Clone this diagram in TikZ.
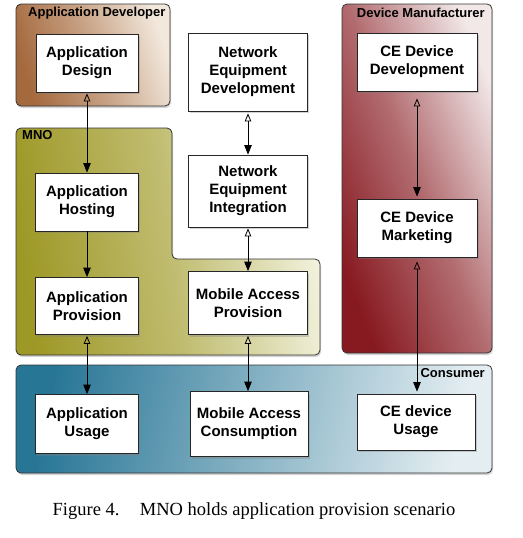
\documentclass[tikz,border=0pt]{standalone}
\usepackage{fontspec}
\setmainfont{Liberation Serif}
\newfontfamily\hv{Liberation Sans}
\usetikzlibrary{arrows.meta,shadows}
\definecolor{devD}{RGB}{165,105,62}
\definecolor{devL}{RGB}{242,232,220}
\definecolor{mnoD}{RGB}{158,152,38}
\definecolor{mnoL}{RGB}{242,242,222}
\definecolor{manD}{RGB}{135,25,32}
\definecolor{manL}{RGB}{242,232,232}
\definecolor{conD}{RGB}{40,118,150}
\definecolor{conL}{RGB}{228,238,242}
\tikzset{
  grp/.style={draw=black!80, line width=0.8pt, rounded corners=5pt,
    drop shadow={opacity=0.35, shadow xshift=1pt, shadow yshift=-2pt}},
  grplabel/.style={font=\hv\bfseries\fontsize{13}{15}\selectfont, inner sep=0pt},
  box/.style={draw=black!85, fill=white, line width=0.8pt, align=center,
    font=\hv\bfseries\fontsize{15}{18}\selectfont, inner sep=0pt,
    drop shadow={opacity=0.35, shadow xshift=1.5pt, shadow yshift=-2pt}},
  link/.style={line width=0.8pt, {Triangle[open,length=8pt,width=6.5pt]}-{Triangle[length=9.5pt,width=7.5pt]}},
  flow/.style={line width=0.8pt, -{Triangle[length=9.5pt,width=7.5pt]}}
}
\begin{document}
\begin{tikzpicture}[x=1pt,y=-1pt]
\useasboundingbox (0,0) rectangle (522,538);
% groups
\shade[grp, left color=devD, right color=devL, middle color=devD!55!devL, shading angle=108]
  (16,4) rectangle (170,106);
\shade[grp, left color=mnoD, right color=mnoL, middle color=mnoD!60!mnoL, shading angle=98]
  (16,128) -- (172,128) -- (172,259) -- (320,259) -- (320,355) -- (16,355) -- cycle;
\shade[grp, left color=manD, right color=manL, middle color=manD!60!manL, shading angle=112]
  (342,4) rectangle (492,353);
\shade[grp, left color=conD, right color=conL, middle color=conD!50!conL, shading angle=78]
  (16,365) rectangle (492,473);
\node[grplabel, anchor=west] (ladev) at (28,13) {Application Developer};
\node[grplabel, anchor=west] (lmno) at (22,135) {MNO};
\node[grplabel, anchor=east] (lman) at (485,13) {Device Manufacturer};
\node[grplabel, anchor=east] (lcon) at (485,373) {Consumer};
% boxes
\node[box, minimum width=102pt, minimum height=58pt] (design) at (87,63) {Application\\Design};
\node[box, minimum width=103pt, minimum height=58pt] (hosting) at (87,202) {Application\\Hosting};
\node[box, minimum width=103pt, minimum height=57pt] (prov) at (87,306) {Application\\Provision};
\node[box, minimum width=103pt, minimum height=59pt] (ausage) at (87,424) {Application\\Usage};
\node[box, minimum width=119pt, minimum height=78pt] (ned) at (248,72) {Network\\Equipment\\Development};
\node[box, minimum width=119pt, minimum height=72pt] (nei) at (248,191) {Network\\Equipment\\Integration};
\node[box, minimum width=119pt, minimum height=63pt] (map) at (248,303) {Mobile Access\\Provision};
\node[box, minimum width=118pt, minimum height=65pt] (mac) at (249,424) {Mobile Access\\Consumption};
\node[box, minimum width=120pt, minimum height=58pt] (cedd) at (417,62) {CE Device\\Development};
\node[box, minimum width=120pt, minimum height=58pt] (cedm) at (417,228) {CE Device\\Marketing};
\node[box, minimum width=118pt, minimum height=56pt] (ceu) at (416,422) {CE device\\Usage};
% connectors
\draw[link, shorten <=1pt] (design.south) -- (hosting.north);
\draw[flow] (hosting.south) -- (prov.north);
\draw[link, shorten <=1pt] (prov.south) -- (ausage.north);
\draw[link, shorten <=2pt] (ned.south) -- (nei.north);
\draw[link, shorten <=1pt] (nei.south) -- (map.north);
\draw[link, shorten <=1pt] (map.south) -- (mac.north-|map.south);
\draw[link, shorten <=7pt, shorten >=2pt] (cedd.south) -- (cedm.north);
\draw[link, shorten <=4pt, shorten >=2pt] (cedm.south) -- (ceu.north-|cedm.south);
% caption
\node[font=\fontsize{18.5}{22}\selectfont, inner sep=0pt] (cap) at (254,511) {Figure 4.\hspace{1.1em}MNO holds application provision scenario};
\end{tikzpicture}
\end{document}
